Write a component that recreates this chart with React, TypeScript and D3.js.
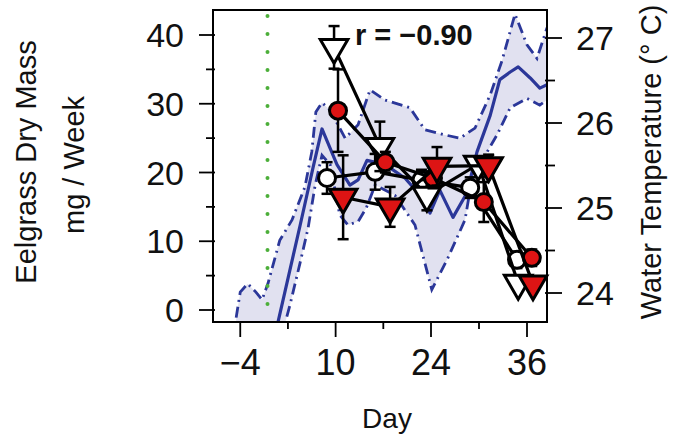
import React from 'react';
import * as d3 from 'd3';

// ---------- data ----------
const dayTicksMajor = [-4, 10, 24, 36];
const dayTicksMinor = [3, 17, 30];
const massTicksMajor = [0, 10, 20, 30, 40];
const massTicksMinor = [5, 15, 25, 35];
const tempTicksMajor = [24, 25, 26, 27];
const tempTicksMinor = [24.5, 25.5, 26.5];

const eventDay = 0;
const rLabel = 'r = \u22120.90';

// water temperature (right axis)
const tempDays = [-0.8, 1.55, 4.8, 6.7, 8.0, 10.2, 12.1, 13.3, 14.6, 17.3, 20.2, 22.4, 23.85, 25.1, 26.75, 28.5, 29.75, 31.4, 32.6, 33.9, 34.9, 36.4, 37.6, 38.5];
const tempMean = [22.51, 23.66, 24.8, 25.48, 25.93, 25.51, 25.27, 25.33, 25.56, 25.51, 25.35, 25.15, 24.94, 25.21, 24.89, 25.18, 25.66, 26.09, 26.51, 26.6, 26.66, 26.53, 26.41, 26.45];

const upperDays = [-4.6, -4.0, -2.9, -1.7, -0.8, 0.1, 1.8, 3.6, 5.5, 6.5, 7.1, 8.0, 9.2, 11.4, 13.3, 15.05, 17.25, 20.9, 23.1, 25.75, 27.6, 29.5, 31.4, 32.9, 34.5, 36.0, 37.25, 38.5];
const upperT = [23.71, 24.01, 24.11, 24.01, 23.92, 24.12, 24.62, 24.86, 25.25, 25.66, 26.13, 26.24, 26.15, 25.82, 25.98, 26.39, 26.27, 26.18, 25.92, 25.86, 25.82, 25.94, 26.33, 26.74, 27.28, 26.92, 26.76, 27.12];

const lowerDays = [-4.6, -2.5, 0.0, 2.3, 3.3, 4.8, 5.95, 7.0, 8.0, 9.2, 10.6, 11.8, 13.3, 14.5, 15.8, 18.7, 21.65, 24.1, 26.1, 28.25, 29.1, 30.4, 32.25, 33.9, 36.0, 37.6, 38.5];
const lowerT = [23.3, 23.2, 23.1, 23.56, 23.86, 24.36, 24.76, 25.27, 25.62, 25.51, 24.92, 24.8, 24.84, 25.0, 25.27, 25.15, 24.8, 24.04, 24.41, 24.86, 25.33, 25.56, 25.86, 26.18, 26.29, 26.21, 26.27];

// eelgrass dry mass (left axis)
const whiteCircleDays = [8.74, 15.8, 22.6, 28.9, 34.75];
const whiteCircleMass = [19.2, 20.1, 18.9, 17.8, 7.3];
const whiteCircleErr = [2.3, 2.6, 1.5, 1.5, 1.2];

const openTriDays = [9.77, 16.5, 23.4, 29.9, 34.9];
const openTriMass = [38.2, 23.8, 16.7, 21.2, 3.9];
const openTriErr = [3.1, 3.6, 2.2, 1.0, 1.0];

const redCircleDays = [10.35, 17.3, 24.25, 30.6, 36.6];
const redCircleMass = [29.0, 21.5, 19.2, 15.7, 7.6];
const redCircleErr = [6.0, 1.5, 1.5, 2.9, 1.2];

const redTriDays = [11.1, 18.0, 24.75, 31.2, 36.75];
const redTriMass = [16.4, 15.0, 20.9, 21.0, 3.8];
const redTriErr = [6.1, 2.9, 2.8, 1.6, 1.0];

// ---------- layout ----------
const W = 673;
const H = 445;
const L = 213, R = 547, T = 10, B = 322;
const FONT = '"Liberation Sans", Arial, sans-serif';
const BLUE = '#2b3799';
const RED = '#dd1414';

const x = d3.scaleLinear().domain([-8, 24, 38.5]).range([L, 431, R]);
const yMass = d3.scaleLinear().domain([0, 40]).range([310, 35]);
const yTemp = d3.scaleLinear().domain([24, 27]).range([293, 38]);

const zip = (a: number[], b: number[]) => a.map((v, i) => [v, b[i]] as [number, number]);

const tempLine = d3.line<[number, number]>().x(d => x(d[0])).y(d => yTemp(d[1]));
const massLine = d3.line<[number, number]>().x(d => x(d[0])).y(d => yMass(d[1]));

const triPath = d3.symbol().type(d3.symbolTriangle).size(330)() as string;

type Series = { days: number[]; mass: number[]; err: number[]; shape: 'circle' | 'tri'; fill: string };
const series: Series[] = [
  { days: whiteCircleDays, mass: whiteCircleMass, err: whiteCircleErr, shape: 'circle', fill: '#ffffff' },
  { days: openTriDays, mass: openTriMass, err: openTriErr, shape: 'tri', fill: '#ffffff' },
  { days: redCircleDays, mass: redCircleMass, err: redCircleErr, shape: 'circle', fill: RED },
  { days: redTriDays, mass: redTriMass, err: redTriErr, shape: 'tri', fill: RED },
];

export default function App() {
  const upperPts = zip(upperDays, upperT);
  const lowerPts = zip(lowerDays, lowerT);
  const bandPath = (tempLine([...upperPts, ...lowerPts.slice().reverse()]) as string) + 'Z';

  return (
    <svg width={W} height={H} style={{ position: 'absolute', left: 0, top: 0, background: '#fff' }} fontFamily={FONT}>
      <defs>
        <clipPath id="plotClip">
          <rect x={L} y={T} width={R - L} height={B - T} />
        </clipPath>
      </defs>

      {/* temperature band and lines */}
      <g clipPath="url(#plotClip)">
        <path d={bandPath} fill="#e1e1f0" stroke="none" />
        <path d={tempLine(upperPts) as string} fill="none" stroke={BLUE} strokeWidth={2.8} strokeDasharray="11,5,2,5" />
        <path d={tempLine(lowerPts) as string} fill="none" stroke={BLUE} strokeWidth={2.8} strokeDasharray="11,5,2,5" />
        <path d={tempLine(zip(tempDays, tempMean)) as string} fill="none" stroke={BLUE} strokeWidth={3.2} strokeLinejoin="round" />
        <line x1={x(eventDay)} x2={x(eventDay)} y1={T + 6} y2={B} stroke="#4caf3a" strokeWidth={4} strokeDasharray="0,18" strokeLinecap="round" />
      </g>

      {/* mass series */}
      {series.map((s, si) => {
        const pts = zip(s.days, s.mass);
        return (
          <g key={si}>
            {pts.map((p, i) => {
              const cx = x(p[0]);
              const y1 = yMass(p[1] + s.err[i]);
              const y2 = yMass(p[1] - s.err[i]);
              return (
                <g key={i} stroke="#000" strokeWidth={2.5}>
                  <line x1={cx} x2={cx} y1={y1} y2={y2} />
                  <line x1={cx - 5.5} x2={cx + 5.5} y1={y1} y2={y1} />
                  <line x1={cx - 5.5} x2={cx + 5.5} y1={y2} y2={y2} />
                </g>
              );
            })}
            <path d={massLine(pts) as string} fill="none" stroke="#000" strokeWidth={3.2} strokeLinejoin="round" />
            {pts.map((p, i) =>
              s.shape === 'circle' ? (
                <circle key={i} cx={x(p[0])} cy={yMass(p[1])} r={8.5} fill={s.fill} stroke="#000" strokeWidth={3} />
              ) : (
                <path key={i} d={triPath} transform={`translate(${x(p[0])},${yMass(p[1])}) rotate(180)`} fill={s.fill} stroke="#000" strokeWidth={3} strokeLinejoin="miter" />
              )
            )}
          </g>
        );
      })}

      {/* frame */}
      <rect x={L} y={T} width={R - L} height={B - T} fill="none" stroke="#000" strokeWidth={2} />

      {/* left axis */}
      {massTicksMajor.map(v => (
        <g key={'lm' + v}>
          <line x1={199} x2={215} y1={yMass(v)} y2={yMass(v)} stroke="#000" strokeWidth={1.8} />
          <text x={184} y={yMass(v)} dy="0.36em" textAnchor="end" fontSize={34} fill="#111">{v}</text>
        </g>
      ))}
      {massTicksMinor.map(v => (
        <line key={'ln' + v} x1={206} x2={215} y1={yMass(v)} y2={yMass(v)} stroke="#000" strokeWidth={1.8} />
      ))}

      {/* right axis */}
      {tempTicksMajor.map(v => (
        <g key={'rm' + v}>
          <line x1={545} x2={562} y1={yTemp(v)} y2={yTemp(v)} stroke="#000" strokeWidth={1.8} />
          <text x={576} y={yTemp(v)} dy="0.36em" textAnchor="start" fontSize={34} fill="#111">{v}</text>
        </g>
      ))}
      {tempTicksMinor.map(v => (
        <line key={'rn' + v} x1={545} x2={555} y1={yTemp(v)} y2={yTemp(v)} stroke="#000" strokeWidth={1.8} />
      ))}

      {/* bottom axis */}
      {dayTicksMajor.map(v => (
        <g key={'bm' + v}>
          <line x1={x(v)} x2={x(v)} y1={B} y2={B + 15} stroke="#000" strokeWidth={1.8} />
          <text x={x(v)} y={375} textAnchor="middle" fontSize={36} fill="#111">{v < 0 ? '\u2212' + Math.abs(v) : v}</text>
        </g>
      ))}
      {dayTicksMinor.map(v => (
        <line key={'bn' + v} x1={x(v)} x2={x(v)} y1={B} y2={B + 7} stroke="#000" strokeWidth={1.8} />
      ))}

      {/* titles */}
      <text x={387} y={428} textAnchor="middle" fontSize={28} fill="#111">Day</text>
      <text transform="translate(36,162) rotate(-90)" textAnchor="middle" fontSize={29} fill="#111">Eelgrass Dry Mass</text>
      <text transform="translate(84,165) rotate(-90)" textAnchor="middle" fontSize={29} fill="#111">mg / Week</text>
      <text transform="translate(661,162) rotate(-90)" textAnchor="middle" fontSize={29} fill="#111">Water Temperature (° C)</text>

      {/* correlation */}
      <text x={355} y={45} fontSize={29} fontWeight="bold" fill="#111">{rLabel}</text>
    </svg>
  );
}
